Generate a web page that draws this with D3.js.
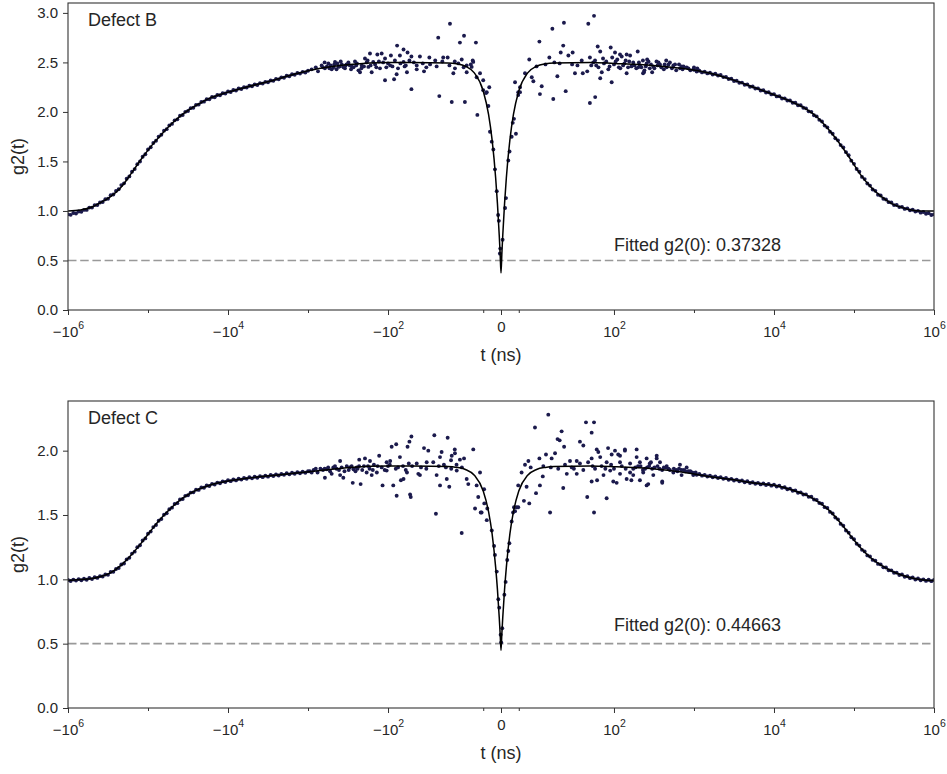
<!DOCTYPE html>
<html>
<head>
<meta charset="utf-8">
<script src="https://cdn.jsdelivr.net/npm/d3@7"></script>
<style>
  body { margin: 0; background: #fff; }
  svg text { font-family: "Liberation Sans", Arial, sans-serif; fill: #262626; }
</style>
</head>
<body>
<svg id="chart" width="947" height="774"></svg>
<script>
// Panel titles and fitted g2(0)
const panelNames = ["Defect B", "Defect C"];
const fittedG0 = ["0.37328", "0.44663"];

// Tick values
const xMajorTicks = [-1e6, -1e4, -1e2, 0, 1e2, 1e4, 1e6];
const xMinorTicks = [-1e5, -1e3, -10, 10, 1e3, 1e5];
const yTicksB = [0, 0.5, 1, 1.5, 2, 2.5, 3];
const yTicksC = [0, 0.5, 1, 1.5, 2];

// |t| grid (ns) for the dense outer data, 1e3 .. 1e6
const tailT = [
  1000, 1080, 1166, 1259, 1359, 1468, 1585, 1711, 1848, 1995,
  2154, 2326, 2512, 2712, 2929, 3162, 3415, 3687, 3981, 4299,
  4642, 5012, 5412, 5843, 6310, 6813, 7356, 7943, 8577, 9261,
  10000, 10798, 11659, 12589, 13594, 14678, 15849, 17113, 18478, 19953,
  21544, 23263, 25119, 27123, 29286, 31623, 34146, 36869, 39811, 42987,
  46416, 50119, 54117, 58434, 63096, 68129, 73564, 79433, 85770, 92611,
  100000, 107977, 116591, 125893, 135936, 146780, 158489, 171133, 184785, 199526,
  215443, 232631, 251189, 271227, 292864, 316228, 341455, 368695, 398107, 429866,
  464159, 501187, 541170, 584341, 630957, 681292, 735642, 794328, 857696, 926119,
  1000000
];

// Defect B, dense data at -t and +t
const tailBneg = [
  2.416, 2.398, 2.405, 2.387, 2.393, 2.376, 2.38, 2.36, 2.365, 2.345,
  2.349, 2.329, 2.334, 2.314, 2.318, 2.299, 2.304, 2.286, 2.291, 2.272,
  2.278, 2.259, 2.264, 2.246, 2.25, 2.231, 2.236, 2.216, 2.221, 2.201,
  2.206, 2.186, 2.189, 2.169, 2.171, 2.149, 2.151, 2.127, 2.128, 2.104,
  2.101, 2.074, 2.071, 2.042, 2.038, 2.009, 2.001, 1.969, 1.961, 1.925,
  1.915, 1.879, 1.864, 1.826, 1.811, 1.769, 1.751, 1.709, 1.687, 1.643,
  1.621, 1.572, 1.548, 1.499, 1.473, 1.423, 1.396, 1.349, 1.326, 1.279,
  1.261, 1.219, 1.201, 1.167, 1.158, 1.124, 1.119, 1.091, 1.086, 1.061,
  1.059, 1.034, 1.034, 1.011, 1.011, 0.991, 0.994, 0.974, 0.979, 0.961,
  0.966
];
const tailBpos = [
  2.426, 2.409, 2.416, 2.399, 2.406, 2.389, 2.395, 2.378, 2.385, 2.368,
  2.373, 2.352, 2.354, 2.332, 2.335, 2.313, 2.315, 2.294, 2.296, 2.274,
  2.277, 2.255, 2.257, 2.236, 2.238, 2.216, 2.219, 2.197, 2.199, 2.177,
  2.18, 2.157, 2.159, 2.136, 2.137, 2.115, 2.116, 2.092, 2.092, 2.067,
  2.067, 2.042, 2.036, 2.006, 2.001, 1.967, 1.955, 1.92, 1.904, 1.862,
  1.844, 1.80, 1.78, 1.735, 1.713, 1.665, 1.642, 1.594, 1.562, 1.508,
  1.476, 1.424, 1.396, 1.344, 1.322, 1.278, 1.256, 1.217, 1.203, 1.164,
  1.156, 1.124, 1.116, 1.089, 1.086, 1.059, 1.061, 1.039, 1.041, 1.021,
  1.026, 1.006, 1.012, 0.995, 1.001, 0.983, 0.99, 0.972, 0.978, 0.96,
  0.966
];

// Defect C, dense data at -t and +t
const tailCneg = [
  1.84, 1.828, 1.836, 1.824, 1.832, 1.821, 1.828, 1.816, 1.824, 1.812,
  1.819, 1.807, 1.815, 1.803, 1.811, 1.798, 1.806, 1.794, 1.802, 1.789,
  1.797, 1.785, 1.793, 1.781, 1.788, 1.775, 1.782, 1.769, 1.776, 1.763,
  1.77, 1.756, 1.761, 1.747, 1.752, 1.737, 1.742, 1.725, 1.729, 1.712,
  1.714, 1.695, 1.697, 1.676, 1.674, 1.653, 1.649, 1.624, 1.62, 1.592,
  1.585, 1.557, 1.545, 1.514, 1.502, 1.468, 1.455, 1.422, 1.406, 1.371,
  1.355, 1.318, 1.302, 1.265, 1.25, 1.215, 1.20, 1.167, 1.155, 1.123,
  1.115, 1.088, 1.08, 1.058, 1.057, 1.035, 1.038, 1.022, 1.025, 1.011,
  1.016, 1.002, 1.01, 0.997, 1.005, 0.993, 1.002, 0.99, 0.998, 0.987,
  0.995
];
const tailCpos = [
  1.825, 1.812, 1.819, 1.806, 1.812, 1.799, 1.806, 1.793, 1.80, 1.787,
  1.794, 1.781, 1.788, 1.774, 1.781, 1.768, 1.775, 1.762, 1.768, 1.755,
  1.762, 1.749, 1.755, 1.743, 1.75, 1.738, 1.745, 1.733, 1.741, 1.728,
  1.736, 1.722, 1.727, 1.711, 1.716, 1.70, 1.705, 1.688, 1.691, 1.673,
  1.676, 1.659, 1.66, 1.641, 1.642, 1.62, 1.617, 1.593, 1.588, 1.561,
  1.554, 1.524, 1.512, 1.481, 1.466, 1.431, 1.417, 1.38, 1.363, 1.327,
  1.311, 1.276, 1.262, 1.229, 1.217, 1.186, 1.177, 1.151, 1.144, 1.12,
  1.116, 1.093, 1.092, 1.071, 1.07, 1.051, 1.052, 1.034, 1.037, 1.02,
  1.024, 1.009, 1.014, 0.999, 1.006, 0.993, 1.0, 0.988, 0.997, 0.986,
  0.995
];

// Noisy data near the dip, [t (ns), g2]
const scatterB = [
  [-900, 2.43], [-800, 2.45], [-750, 2.41], [-675, 2.47], [-615, 2.44], [-557, 2.49], [-506, 2.43],
  [-460, 2.505], [-417, 2.455], [-378, 2.48], [-345, 2.44], [-313, 2.50], [-284, 2.46], [-259, 2.51],
  [-234, 2.42], [-213, 2.47], [-194, 2.54], [-176, 2.455], [-224, 2.40], [-153, 2.505], [-126, 2.44],
  [-94, 2.47], [-64, 2.505], [-47.4, 2.47], [-39.9, 2.48], [-36.2, 2.46], [-25.9, 2.44], [-13.7, 2.35],
  [-168, 2.59], [-136, 2.58], [-120, 2.59], [-109, 2.54], [-92, 2.57], [-77, 2.67], [-71, 2.57],
  [-64, 2.63], [-57, 2.60], [-51, 2.56], [-45.6, 2.56], [-40.3, 2.55], [-32.5, 2.55], [-30, 2.55],
  [-22.1, 2.53], [-15.9, 2.52], [-24, 2.49], [-19.3, 2.47], [-16.5, 2.455], [-15.6, 2.505],
  [-160, 2.40], [-109, 2.32], [-84, 2.33], [-78, 2.38], [-58, 2.40], [-51, 2.23], [-47.4, 2.43],
  [-43.3, 2.41], [-34.7, 2.16], [-27.7, 2.10], [-20.3, 2.10], [-26.8, 2.39], [-19.3, 2.40],
  [-11.8, 2.39], [-10, 2.32], [-6.6, 2.25], [-8, 2.20],
  [-28.7, 2.89], [-35.3, 2.75], [-20.8, 2.77], [-23.1, 2.70], [-14.1, 2.70], [-13.3, 1.97],
  [-650, 2.45], [-580, 2.46], [-520, 2.47], [-480, 2.45], [-430, 2.49], [-400, 2.46], [-360, 2.45],
  [-330, 2.48], [-300, 2.47], [-270, 2.45], [-245, 2.49], [-200, 2.46], [-185, 2.50], [-165, 2.47],
  [-145, 2.48], [-115, 2.50], [-100, 2.49], [-88, 2.46], [-70, 2.49], [-60, 2.47], [-54, 2.52],
  [-44, 2.49], [-33, 2.51],
  [-620, 2.50], [-540, 2.44], [-470, 2.48], [-440, 2.43], [-390, 2.51], [-340, 2.47], [-290, 2.43],
  [-250, 2.47], [-215, 2.44], [-180, 2.52], [-140, 2.45], [-130, 2.51], [-105, 2.45], [-82, 2.52],
  [-75, 2.44], [-62, 2.46], [-49, 2.50], [-42, 2.45], [-37, 2.52], [-29, 2.47], [-26, 2.51],
  [-21, 2.45], [-17, 2.48],
  [-10, 2.22], [-8.4, 2.19], [-7.1, 2.06], [-6.2, 1.80], [-4.3, 1.62], [-5.2, 1.70], [-3.4, 1.42],
  [-2.4, 1.20], [-1.6, 0.96], [-1.2, 0.90], [-0.4, 0.62], [-0.6, 0.57],
  [0.9, 0.71], [2.3, 1.03], [2.8, 1.13], [4.1, 1.51], [4.8, 1.60], [6, 1.75], [8.4, 1.78],
  [6.6, 1.89], [7.3, 1.93], [9.7, 2.17], [10.7, 2.20],
  [56.3, 2.97], [35.4, 2.90], [28.9, 2.84], [49.1, 2.89], [21.6, 2.71], [35, 2.67], [15.9, 2.53],
  [33.6, 2.60], [27.2, 2.55], [37.9, 2.57], [40.3, 2.60], [62.6, 2.66], [67.3, 2.61], [91, 2.65],
  [103, 2.60], [159, 2.57], [198, 2.61], [50, 2.55], [45.4, 2.52], [73, 2.54], [125, 2.56],
  [7.9, 2.30], [9.7, 2.20], [10.7, 2.25], [13.5, 2.39], [17.3, 2.35], [18.2, 2.31], [21.9, 2.18],
  [22.9, 2.26], [29.4, 2.13], [31.7, 2.36], [36.4, 2.21], [41.6, 2.39], [46, 2.39], [48.5, 2.41],
  [50, 2.09], [58.2, 2.15], [67.3, 2.34], [93.6, 2.30], [70.4, 2.40], [144, 2.39], [201, 2.45], [237, 2.40],
  [174, 2.50], [211, 2.47], [256, 2.49], [310, 2.46], [376, 2.48], [456, 2.45], [552, 2.47], [668, 2.44],
  [810, 2.45], [980, 2.43], [190, 2.44], [230, 2.52], [280, 2.44], [340, 2.51], [420, 2.43], [500, 2.50],
  [600, 2.42], [740, 2.46], [900, 2.42], [1100, 2.44], [165, 2.46], [240, 2.42], [350, 2.47], [480, 2.48],
  [720, 2.43], [60, 2.47], [80, 2.51], [100, 2.48], [120, 2.44], [140, 2.52], [85, 2.43], [110, 2.53],
  [130, 2.47], [150, 2.45], [95, 2.55], [25, 2.48], [20, 2.46], [30, 2.50], [40, 2.48], [55, 2.50],
  [119, 2.58], [144, 2.58], [231, 2.39], [260, 2.53], [300, 2.40], [450, 2.52], [650, 2.48],
  [52, 2.47], [58, 2.52], [64, 2.45], [75, 2.49], [88, 2.46], [105, 2.51], [115, 2.45], [135, 2.49],
  [155, 2.51], [180, 2.47], [205, 2.50], [220, 2.45], [250, 2.46], [270, 2.51], [290, 2.48], [320, 2.44],
  [360, 2.50], [390, 2.45], [430, 2.48], [530, 2.44], [580, 2.48], [700, 2.46], [850, 2.44], [1000, 2.45],
  [43, 2.47], [33, 2.49]
];

const scatterC = [
  [-51, 2.11], [-37.5, 2.12], [-30, 2.10], [-54, 2.07], [-57, 2.03], [-90, 2.03], [-79, 2.05],
  [-15.6, 2.01], [-26, 2.01], [-43.3, 2.02], [-40.9, 2.00], [-25.9, 1.98], [-27.7, 1.96], [-33.4, 1.99],
  [-34.3, 1.95], [-23.1, 1.93], [-20.8, 1.94], [-28.1, 1.925], [-71, 1.95], [-129, 1.96], [-194, 1.94],
  [-229, 1.93], [-168, 1.92], [-397, 1.92], [-104, 1.91], [-94, 1.92], [-47.4, 1.90], [-41.8, 1.91],
  [-38.1, 1.91], [-32.1, 1.89],
  [-78, 1.65], [-53, 1.66], [-52, 1.64], [-36.6, 1.51], [-34.3, 1.73], [-29.1, 1.72], [-30.5, 1.78],
  [-36.2, 1.81], [-45.6, 1.81], [-46.5, 1.82], [-64, 1.78], [-69, 1.77], [-117, 1.73], [-86, 1.73],
  [-220, 1.74], [-276, 1.75], [-160, 1.81], [-185, 1.83], [-397, 1.81], [-362, 1.79], [-615, 1.79],
  [-506, 1.82], [-14.6, 1.55], [-11.4, 1.52], [-12.8, 1.64], [-13.7, 1.73], [-9.5, 1.70], [-19.3, 1.78],
  [-18.4, 1.74], [-24.9, 1.845], [-11.8, 1.83], [-270, 1.855], [-104, 1.845], [-58, 1.83], [-138, 1.83],
  [-583, 1.855], [-483, 1.87], [-328, 1.88], [-246, 1.87],
  [-650, 1.85], [-560, 1.87], [-440, 1.86], [-350, 1.84], [-300, 1.87], [-240, 1.86], [-200, 1.88],
  [-170, 1.86], [-150, 1.89], [-120, 1.87], [-100, 1.88], [-80, 1.86], [-65, 1.88], [-55, 1.90],
  [-45, 1.87], [-35, 1.88], [-28, 1.86], [-22, 1.87], [-950, 1.84], [-850, 1.85], [-760, 1.83], [-700, 1.86],
  [-900, 1.83], [-800, 1.86], [-620, 1.86], [-530, 1.84], [-460, 1.88], [-410, 1.85], [-380, 1.87],
  [-310, 1.85], [-285, 1.88], [-255, 1.84], [-230, 1.88], [-210, 1.85], [-178, 1.88], [-155, 1.85],
  [-135, 1.88], [-110, 1.85], [-95, 1.89], [-75, 1.87], [-60, 1.85], [-50, 1.88], [-42, 1.86],
  [-31, 1.87], [-25, 1.89],
  [-22.1, 1.36], [-10.9, 1.52], [-9.4, 1.59], [-7.7, 1.55], [-8.0, 1.46], [-5.2, 1.38], [-3.9, 1.26],
  [-3.4, 1.19], [-2.4, 1.06], [-1.5, 0.845], [-1.0, 0.78], [-0.2, 0.57], [0.1, 0.51], [0.7, 0.62],
  [1.9, 0.88], [2.6, 0.98], [3.5, 1.15], [4.7, 1.28], [4.1, 1.22], [6.0, 1.45], [7.3, 1.56], [7.9, 1.53],
  [9.7, 1.56], [6.8, 1.52], [8.7, 1.56],
  [26.6, 2.28], [19.1, 2.18], [47.8, 2.22], [56.3, 2.22], [52.6, 2.14], [34.1, 2.15], [31.8, 2.09],
  [33, 2.08], [44.4, 2.07], [46.3, 2.04], [35.5, 2.03], [30.4, 1.98], [25.3, 1.97], [28.5, 1.94],
  [21.6, 1.94], [15.4, 1.92], [13.5, 1.89], [16.7, 1.87], [60.9, 2.01], [63.7, 1.99], [84.4, 2.02],
  [103, 2.00], [137, 2.00], [93.6, 1.97], [113, 1.97], [192, 1.95], [256, 1.94], [342, 1.94],
  [67.3, 1.95], [52.6, 1.94], [42.6, 1.92], [38.8, 1.92], [44.4, 1.90], [49, 1.91], [81, 1.91],
  [119, 1.91], [159, 1.90], [211, 1.91], [280, 1.90], [376, 1.91], [456, 1.88], [668, 1.89], [810, 1.87],
  [9.7, 1.73], [11.6, 1.83], [12.9, 1.61], [15.9, 1.59], [14.4, 1.72], [19.7, 1.67], [21.9, 1.73],
  [23.5, 1.80], [27.6, 1.52], [35, 1.71], [37, 1.82], [42.6, 1.82], [48.5, 1.64], [56.3, 1.52],
  [52.6, 1.76], [61.5, 1.77], [81, 1.63], [74, 1.81], [98, 1.76], [108, 1.75], [144, 1.78], [174, 1.81],
  [211, 1.77], [256, 1.73], [310, 1.81], [401, 1.76], [232, 1.83], [552, 1.83], [700, 1.81], [980, 1.81],
  [119, 1.82], [159, 1.83], [89.7, 1.845], [46.3, 1.85], [39.8, 1.87], [32.2, 1.86], [23.8, 1.88],
  [174, 1.86], [200, 1.88], [230, 1.85], [260, 1.87], [300, 1.86], [350, 1.88], [400, 1.85], [450, 1.87],
  [500, 1.85], [560, 1.86], [620, 1.84], [700, 1.85], [780, 1.84], [850, 1.84], [950, 1.83], [1050, 1.83],
  [119, 1.96], [137, 2.01], [192, 2.01], [290, 1.91], [342, 1.96], [268, 1.74], [401, 1.75], [165, 1.77],
  [28, 1.87], [36, 1.89], [41, 1.86], [54, 1.88], [58, 1.86], [70, 1.88], [78, 1.86], [92, 1.89],
  [100, 1.86], [125, 1.88], [140, 1.86], [185, 1.87], [215, 1.88], [245, 1.86], [275, 1.88], [320, 1.87],
  [370, 1.86], [420, 1.87], [480, 1.86], [600, 1.85], [650, 1.86], [750, 1.85], [900, 1.84]
];

// Fit curve, t (ns) and values for both defects
const fitT = [
  -1e6, -7e5, -5e5, -4e5, -3e5, -2.2e5, -1.6e5, -1.2e5, -9e4, -7e4, -5e4, -3.5e4, -2.5e4, -1.8e4,
  -1.3e4, -1e4, -6e3, -3e3, -1.5e3, -700, -300, -100, -50, -30, -25, -20, -15, -10, -7, -5, -3, -2,
  -1, -0.5, 0, 0.5, 1, 2, 3, 5, 7, 10, 15, 20, 25, 30, 50, 100, 300, 700, 1.5e3, 3e3, 6e3, 1e4,
  1.3e4, 1.8e4, 2.5e4, 3.5e4, 5e4, 7e4, 9e4, 1.2e5, 1.6e5, 2.2e5, 3e5, 4e5, 5e5, 7e5, 1e6
];
const fitB = [
  1.00, 1.01, 1.04, 1.08, 1.14, 1.235, 1.385, 1.53, 1.66, 1.76, 1.885, 1.99, 2.066, 2.13,
  2.171, 2.20, 2.25, 2.31, 2.38, 2.44, 2.48, 2.50, 2.50, 2.495, 2.486, 2.461, 2.394, 2.212, 1.975, 1.718, 1.333, 1.074,
  0.758, 0.575, 0.373, 0.575, 0.758, 1.074, 1.333, 1.718, 1.975, 2.212, 2.394, 2.461, 2.486, 2.495, 2.50, 2.49, 2.47, 2.44, 2.395, 2.326, 2.24, 2.174,
  2.139, 2.089, 2.031, 1.944, 1.807, 1.654, 1.525, 1.37, 1.247, 1.144, 1.072, 1.035, 1.012, 1.00, 1.00
];
const fitC = [
  0.99, 0.998, 1.007, 1.02, 1.048, 1.107, 1.193, 1.286, 1.386, 1.468, 1.562, 1.64, 1.692, 1.726,
  1.75, 1.765, 1.785, 1.805, 1.825, 1.845, 1.87, 1.88, 1.88, 1.876, 1.870, 1.854, 1.809, 1.686, 1.526, 1.353, 1.093, 0.920,
  0.706, 0.583, 0.447, 0.583, 0.706, 0.920, 1.093, 1.353, 1.526, 1.686, 1.809, 1.854, 1.870, 1.876, 1.88, 1.875, 1.86, 1.835, 1.80, 1.775, 1.747, 1.731,
  1.716, 1.688, 1.656, 1.606, 1.53, 1.428, 1.341, 1.248, 1.17, 1.108, 1.062, 1.032, 1.014, 0.997, 0.99
];

// ---- layout ----
const svg = d3.select("#chart");
const xLeft = 68, xRight = 934;
const dotColor = "#1b1a4c";

// matplotlib style symlog (linthresh 50, linscale 1, base 10)
const linthresh = 50, linscale = 1 / (1 - 1 / 10);
function symlog(t) {
  const a = Math.abs(t);
  if (a <= linthresh) return t / linthresh * linscale;
  return Math.sign(t) * (linscale + Math.log10(a / linthresh));
}

const x = d3.scaleLinear()
  .domain([symlog(-1e6), symlog(1e6)])
  .range([xLeft, xRight]);
const px = t => x(symlog(t));

const panels = [
  { top: 3, bottom: 310, yMax: 3.1, yTicks: yTicksB, tailNeg: tailBneg, tailPos: tailBpos, scatter: scatterB, fit: fitB },
  { top: 401, bottom: 708, yMax: 2.386, yTicks: yTicksC, tailNeg: tailCneg, tailPos: tailCpos, scatter: scatterC, fit: fitC }
];

panels.forEach((p, i) => {
  const y = d3.scaleLinear().domain([0, p.yMax]).range([p.bottom, p.top]);
  const g = svg.append("g");

  // clip to axes area
  svg.append("clipPath").attr("id", "clip" + i)
    .append("rect")
    .attr("x", xLeft).attr("y", p.top)
    .attr("width", xRight - xLeft).attr("height", p.bottom - p.top);
  const plot = g.append("g").attr("clip-path", `url(#clip${i})`);

  // reference line at 0.5
  plot.append("line")
    .attr("x1", xLeft).attr("x2", xRight)
    .attr("y1", y(0.5)).attr("y2", y(0.5))
    .attr("stroke", "#999")
    .attr("stroke-width", 1.6)
    .attr("stroke-dasharray", "8.5,3.7");

  // data points
  const pts = p.scatter
    .concat(tailT.map((t, k) => [-t, p.tailNeg[k]]))
    .concat(tailT.map((t, k) => [t, p.tailPos[k]]));
  plot.selectAll("circle")
    .data(pts)
    .enter()
    .append("circle")
    .attr("cx", d => px(d[0]))
    .attr("cy", d => y(d[1]))
    .attr("r", 1.95)
    .attr("fill", dotColor);

  // fit line
  const line = d3.line()
    .x(d => px(d[0]))
    .y(d => y(d[1]))
    .curve(d3.curveMonotoneX);
  plot.append("path")
    .datum(fitT.map((t, k) => [t, p.fit[k]]))
    .attr("d", line)
    .attr("fill", "none")
    .attr("stroke", "#000")
    .attr("stroke-width", 1.5);

  // x axis, major ticks with power labels
  const gx = g.append("g")
    .attr("transform", `translate(0,${p.bottom})`)
    .call(d3.axisBottom(x).tickValues(xMajorTicks.map(symlog)).tickSize(5).tickFormat(""));
  gx.selectAll(".tick").each(function(d, j) {
    const v = xMajorTicks[j];
    const txt = d3.select(this).select("text")
      .attr("dy", null)
      .attr("font-size", 15)
      .attr("fill", "#262626");
    if (v === 0) {
      txt.attr("y", 22).text("0");
    } else {
      const e = Math.round(Math.log10(Math.abs(v)));
      txt.attr("y", 27);
      txt.append("tspan").text((v < 0 ? "\u2212" : "") + "10");
      txt.append("tspan").attr("dy", -8.5).attr("font-size", 10.5).text(e);
    }
  });
  // minor ticks
  g.append("g")
    .attr("transform", `translate(0,${p.bottom})`)
    .call(d3.axisBottom(x).tickValues(xMinorTicks.map(symlog)).tickSize(3).tickFormat(""));

  // y axis
  g.append("g")
    .attr("transform", `translate(${xLeft},0)`)
    .call(d3.axisLeft(y).tickValues(p.yTicks).tickSize(5).tickPadding(5).tickFormat(d3.format(".1f")))
    .selectAll("text").attr("font-size", 15).attr("fill", "#262626");

  g.selectAll(".domain").remove();
  g.selectAll(".tick line").attr("stroke", "#333");

  // axes frame
  g.append("rect")
    .attr("x", xLeft).attr("y", p.top)
    .attr("width", xRight - xLeft).attr("height", p.bottom - p.top)
    .attr("fill", "none")
    .attr("stroke", "#333")
    .attr("stroke-width", 1.1);

  // labels
  g.append("text")
    .attr("x", (xLeft + xRight) / 2).attr("y", p.bottom + 51)
    .attr("text-anchor", "middle")
    .attr("font-size", 18)
    .text("t (ns)");
  g.append("text")
    .attr("transform", `translate(24,${(p.top + p.bottom) / 2}) rotate(-90)`)
    .attr("text-anchor", "middle")
    .attr("font-size", 18)
    .text("g2(t)");
  g.append("text")
    .attr("x", 88).attr("y", p.top + 23)
    .attr("font-size", 18)
    .text(panelNames[i]);
  g.append("text")
    .attr("x", px(100)).attr("y", y(0.6))
    .attr("font-size", 18)
    .text("Fitted g2(0): " + fittedG0[i]);
});
</script>
</body>
</html>
